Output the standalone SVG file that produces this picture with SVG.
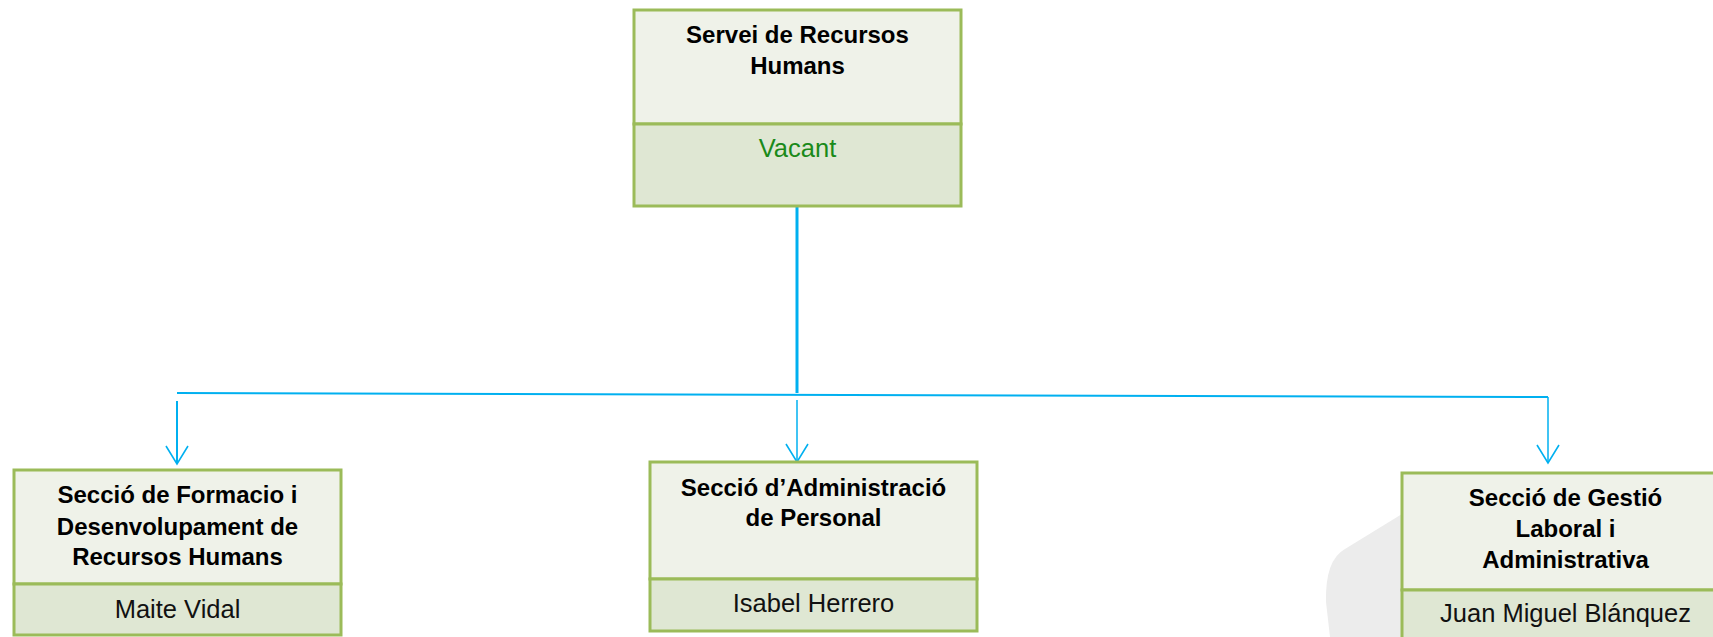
<svg xmlns="http://www.w3.org/2000/svg" width="1713" height="637" viewBox="0 0 1713 637">
<style>
.top{fill:#eff2e9;stroke:#9bbb59;stroke-width:3}
.bot{fill:#dfe7d3;stroke:#9bbb59;stroke-width:3}
.t{font-family:"Liberation Sans",Arial,sans-serif;font-weight:bold;font-size:24px;fill:#000;text-anchor:middle}
.n{font-family:"Liberation Sans",Arial,sans-serif;font-size:25.5px;fill:#111;text-anchor:middle}
.c{stroke:#00b0f0;fill:none}
</style>
<defs>
<marker id="ah" markerUnits="userSpaceOnUse" markerWidth="26" markerHeight="22" refX="12" refY="19" orient="0" viewBox="0 0 24 22">
<path d="M1,1 L12,19 L23,1" fill="none" stroke="#00b0f0" stroke-width="1.6"/>
</marker>
</defs>
<rect width="1713" height="637" fill="#ffffff"/>
<path d="M1330,637 L1326,602 Q1325,560 1345,549 L1402,514 L1402,637 Z" fill="#ececec"/>
<g id="connectors">
<line class="c" x1="797" y1="206" x2="797" y2="393" stroke-width="3"/>
<polyline class="c" points="177,393 1548,397" stroke-width="2"/>
<line class="c" x1="177" y1="401" x2="177" y2="464" stroke-width="2" marker-end="url(#ah)"/>
<line class="c" x1="797" y1="400" x2="797" y2="462" stroke-width="1.5" marker-end="url(#ah)"/>
<line class="c" x1="1548" y1="397" x2="1548" y2="463" stroke-width="1.5" marker-end="url(#ah)"/>
</g>
<g id="node-servei">
<rect class="top" x="634" y="10" width="327" height="114"/>
<rect class="bot" x="634" y="124" width="327" height="82"/>
<text class="t" x="797.5" y="43">Servei de Recursos</text>
<text class="t" x="797.5" y="74">Humans</text>
<text class="n" x="797.5" y="157" style="fill:#1a8a1a">Vacant</text>
</g>
<g id="node-formacio">
<rect class="top" x="14" y="470" width="327" height="114"/>
<rect class="bot" x="14" y="584" width="327" height="51"/>
<text class="t" x="177.5" y="503">Secció de Formacio i</text>
<text class="t" x="177.5" y="535">Desenvolupament de</text>
<text class="t" x="177.5" y="565">Recursos Humans</text>
<text class="n" x="177.5" y="618">Maite Vidal</text>
</g>
<g id="node-administracio">
<rect class="top" x="650" y="462" width="327" height="117"/>
<rect class="bot" x="650" y="579" width="327" height="52"/>
<text class="t" x="813.5" y="496">Secció d’Administració</text>
<text class="t" x="813.5" y="526">de Personal</text>
<text class="n" x="813.5" y="612">Isabel Herrero</text>
</g>
<g id="node-gestio">
<rect class="top" x="1402" y="473" width="327" height="117"/>
<rect class="bot" x="1402" y="590" width="327" height="60"/>
<text class="t" x="1565.5" y="506">Secció de Gestió</text>
<text class="t" x="1565.5" y="537">Laboral i</text>
<text class="t" x="1565.5" y="568">Administrativa</text>
<text class="n" x="1565.5" y="622">Juan Miguel Blánquez</text>
</g>
</svg>
